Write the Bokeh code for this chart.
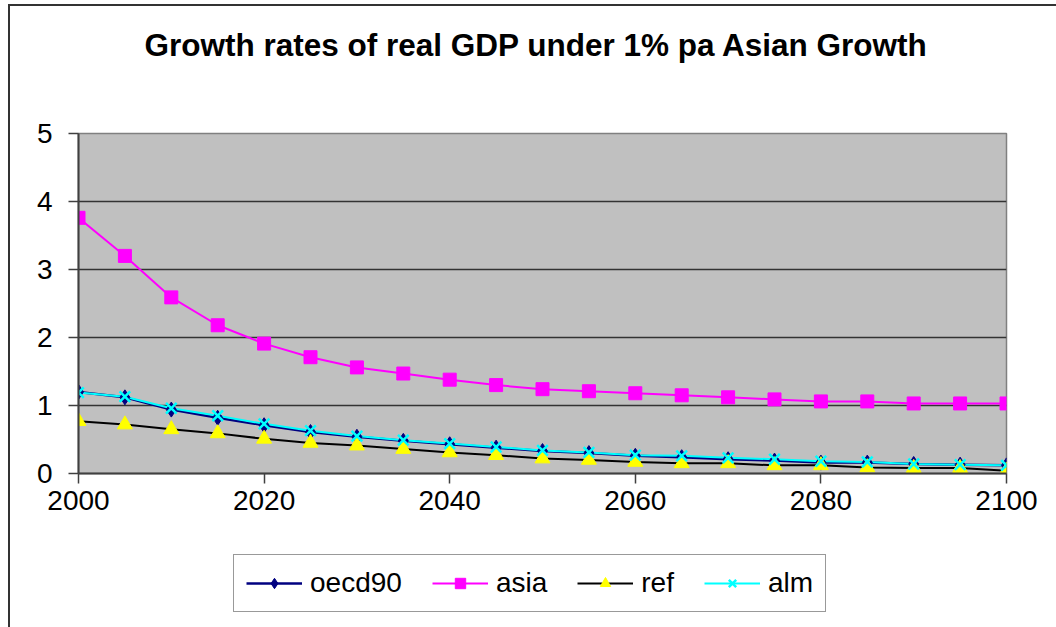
from bokeh.plotting import figure
from bokeh.models import Legend, LegendItem, FixedTicker, Range1d, Div, Spacer
from bokeh.layouts import column, row
from bokeh.embed import file_html
from bokeh.resources import INLINE

title_text = "Growth rates of real GDP under 1% pa Asian Growth"
years = [2000, 2005, 2010, 2015, 2020, 2025, 2030, 2035, 2040, 2045, 2050,
         2055, 2060, 2065, 2070, 2075, 2080, 2085, 2090, 2095, 2100]
oecd90 = [1.20, 1.12, 0.94, 0.82, 0.71, 0.61, 0.54, 0.48, 0.43, 0.38, 0.33,
          0.30, 0.26, 0.24, 0.21, 0.19, 0.16, 0.16, 0.14, 0.13, 0.12]
asia = [3.76, 3.20, 2.59, 2.18, 1.91, 1.71, 1.56, 1.47, 1.38, 1.30, 1.24,
        1.21, 1.18, 1.15, 1.12, 1.09, 1.06, 1.06, 1.03, 1.03, 1.03]
ref = [0.77, 0.72, 0.65, 0.59, 0.51, 0.45, 0.41, 0.36, 0.31, 0.27, 0.22,
       0.20, 0.17, 0.15, 0.15, 0.12, 0.12, 0.09, 0.08, 0.08, 0.04]
alm = [1.19, 1.13, 0.96, 0.85, 0.73, 0.63, 0.55, 0.49, 0.44, 0.39, 0.34,
       0.31, 0.27, 0.26, 0.23, 0.21, 0.18, 0.17, 0.14, 0.13, 0.12]
series_names = ["oecd90", "asia", "ref", "alm"]
x_ticks = [2000, 2020, 2040, 2060, 2080, 2100]
y_ticks = [0, 1, 2, 3, 4, 5]

FONT = "Liberation Sans"
NAVY, MAGENTA, BLACK, CYAN, YELLOW = "#000080", "#FF00FF", "#000000", "#00FFFF", "#FFFF00"

W = 1046
H_TITLE = 80
H_MAIN = 459
H_LEG = 82

# title strip
p0 = figure(width=W, height=H_TITLE, output_backend="svg", toolbar_location=None,
            x_range=Range1d(0, 1), y_range=Range1d(0, 1),
            x_axis_location=None, y_axis_location=None, min_border=0)
p0.grid.visible = False
p0.outline_line_color = None
p0.background_fill_color = "white"
p0.border_fill_color = "white"
p0.title.text = title_text
p0.title.align = "center"
p0.title.text_font = FONT
p0.title.text_font_size = "31.5px"
p0.title.text_font_style = "bold"
p0.title.text_color = "black"
p0.title.standoff = 36
p0.title.padding = (0, 12, 0, 0)

p = figure(width=W, height=H_MAIN, output_backend="svg", toolbar_location=None,
           x_range=Range1d(2000, 2100), y_range=Range1d(0, 5),
           min_border_left=68, min_border_right=50, min_border_top=47, min_border_bottom=72)

p.background_fill_color = "#C0C0C0"
p.border_fill_color = "white"
p.outline_line_color = "#808080"
p.outline_line_width = 1.5

p.xgrid.grid_line_color = None
p.ygrid.grid_line_color = "#333333"
p.ygrid.grid_line_width = 1.5
p.ygrid.ticker = FixedTicker(ticks=y_ticks)

p.xaxis.ticker = FixedTicker(ticks=x_ticks)
p.yaxis.ticker = FixedTicker(ticks=y_ticks)
for ax in (p.xaxis, p.yaxis):
    ax.axis_line_color = "#404040"
    ax.axis_line_width = 2
    ax.major_tick_line_color = "#404040"
    ax.major_tick_line_width = 1.5
    ax.major_tick_out = 10
    ax.major_tick_in = 0
    ax.minor_tick_line_color = None
    ax.major_label_text_font = FONT
    ax.major_label_text_font_size = "28px"
    ax.major_label_text_color = "black"
p.xaxis.major_label_standoff = 7
p.yaxis.major_label_standoff = 16

series = [oecd90, asia, ref, alm]
line_styles = [(NAVY, 2.5), (MAGENTA, 2), (BLACK, 2), (CYAN, 2)]
marker_styles = [
    dict(marker="diamond", size=15, fill_color=NAVY, line_color=NAVY),
    dict(marker="square", size=13, fill_color=MAGENTA, line_color=MAGENTA),
    dict(marker="triangle", size=15, fill_color=YELLOW, line_color=YELLOW),
    dict(marker="x", size=15, line_color=CYAN, line_width=2.5),
]
for vals, (lc, lw) in zip(series, line_styles):
    p.line(years, vals, line_color=lc, line_width=lw)
for vals, ms in zip(series, marker_styles):
    p.scatter(years, vals, **ms)

# legend panel (separate figure so the legend is not clipped by the frame);
# its series lie outside its ranges and serve only as legend glyphs
p2 = figure(width=W, height=H_LEG, output_backend="svg", toolbar_location=None,
            x_range=Range1d(0, 1), y_range=Range1d(0, 1),
            x_axis_location=None, y_axis_location=None, min_border=0)
p2.grid.visible = False
p2.outline_line_color = None
p2.background_fill_color = "white"
p2.border_fill_color = "white"
items = []
for name, vals, (lc, lw), ms in zip(series_names, series, line_styles, marker_styles):
    lr = p2.line(years, vals, line_color=lc, line_width=lw)
    sr = p2.scatter(years, vals, **ms)
    items.append(LegendItem(label=name, renderers=[lr, sr]))
legend = Legend(items=items, orientation="horizontal", location=(155, 15))
legend.label_text_font = FONT
legend.label_text_font_size = "28px"
legend.label_text_color = "black"
legend.glyph_width = 56
legend.glyph_height = 26
legend.label_standoff = 8
legend.spacing = 30
legend.padding = 12
legend.margin = 0
legend.border_line_color = "#333333"
legend.border_line_width = 1.5
legend.background_fill_color = "white"
legend.background_fill_alpha = 1
p2.add_layout(legend, "center")

border_top = Div(width=W, height=2, margin=0, styles={"background-color": "#333333"})
border_left = Div(width=2, height=2 + H_TITLE + H_MAIN + H_LEG, margin=0,
                  styles={"background-color": "#333333"})
layout = column(Spacer(height=4, margin=0),
                row(Spacer(width=8, margin=0), border_left,
                    column(border_top, p0, p, p2, spacing=0), spacing=0),
                spacing=0)

open("out.html", "w").write(file_html(layout, INLINE))
